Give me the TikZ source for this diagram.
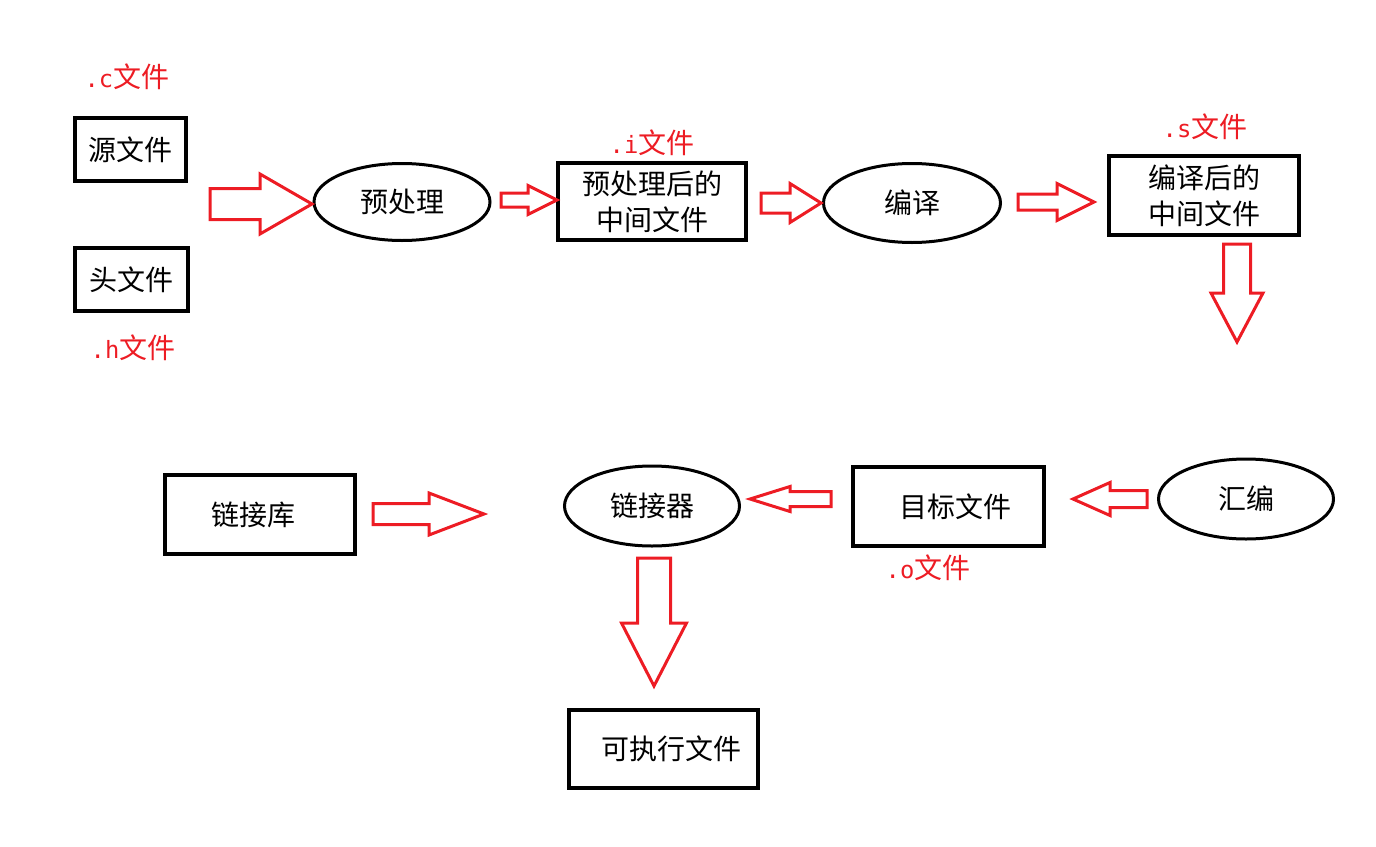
\documentclass[tikz,border=0pt]{standalone}
\usepackage{fontspec}
\setmainfont{Noto Sans CJK SC}
\newfontfamily\extfont[Scale=0.85]{DejaVu Sans Mono}
\usetikzlibrary{shapes.geometric}
\definecolor{pen}{RGB}{237,28,36}
% hollow block arrows: tail, head base, tip, centre line, shaft half width, head half width
\newcommand{\harrow}[6]{\draw[fat] ({#1},{#4-#5}) -- ({#2},{#4-#5}) -- ({#2},{#4-#6}) -- ({#3},{#4}) -- ({#2},{#4+#6}) -- ({#2},{#4+#5}) -- ({#1},{#4+#5}) -- cycle;}
\newcommand{\varrow}[6]{\draw[fat] ({#4-#5},{#1}) -- ({#4-#5},{#2}) -- ({#4-#6},{#2}) -- ({#4},{#3}) -- ({#4+#6},{#2}) -- ({#4+#5},{#2}) -- ({#4+#5},{#1}) -- cycle;}
\begin{document}
\begin{tikzpicture}[x=0.5pt,y=-0.5pt,
  font=\fontsize{14pt}{18pt}\selectfont,
  box/.style={draw,line width=2pt,inner sep=0pt,align=center,minimum width=95pt,minimum height=39.5pt},
  stage/.style={draw,ellipse,line width=1.5pt,inner sep=0pt,minimum width=88pt,minimum height=39.5pt},
  ext/.style={text=pen,inner sep=0pt},
  fat/.style={draw=pen,line width=1.5pt,line join=miter}]
\useasboundingbox (0,0) rectangle (1376,846);
% first row
\node[box,minimum width=55.5pt,minimum height=31.5pt] (src) at (130.5,149.5) {源文件};
\node[box,minimum width=56.5pt,minimum height=31.5pt] (hdr) at (131.5,279.5) {头文件};
\node[ext] (cext) at (127,77) {{\extfont .c}文件};
\node[ext] (hext) at (133,348) {{\extfont .h}文件};
\node[stage,minimum height=38.5pt] (pre) at (402,202) {预处理};
\node[box,minimum width=94pt,minimum height=38.5pt] (ifile) at (652,201.5) {预处理后的\\中间文件};
\node[ext] (iext) at (652,143) {{\extfont .i}文件};
\node[stage,minimum width=88.5pt] (comp) at (912,203) {编译};
\node[box] (sfile) at (1204,195.5) {编译后的\\中间文件};
\node[ext] (sext) at (1205,127) {{\extfont .s}文件};
% second row
\node[stage,minimum width=87.5pt,minimum height=40pt] (asm) at (1246,499) {汇编};
\node[box,minimum width=95.5pt] (ofile) at (948.5,506.5) {\hspace*{6.5pt}目标文件};
\node[ext] (oext) at (928,568) {{\extfont .o}文件};
\node[stage,minimum width=87.5pt,minimum height=40pt] (link) at (652,506) {链接器};
\node[box] (lib) at (260,514.5) {链接库\hspace*{7pt}};
\node[box,minimum width=94.5pt,minimum height=39pt] (exe) at (663.5,749) {\hspace*{7.5pt}可执行文件};
% arrows
\harrow{210}{260}{312}{204}{15.5}{30}
\harrow{501}{528}{557}{200}{7}{14.5}
\harrow{761}{790}{821}{203}{10}{19.5}
\harrow{1018}{1057}{1094}{202}{8}{18.5}
\varrow{244}{293}{342}{1237}{13.5}{26}
\harrow{1147}{1110}{1073}{499}{8.5}{16.5}
\harrow{831}{790}{750}{499}{7.5}{12.5}
\harrow{373}{429}{484}{514}{10.5}{21}
\varrow{558}{623}{686}{654}{16.5}{32.5}
\end{tikzpicture}
\end{document}
